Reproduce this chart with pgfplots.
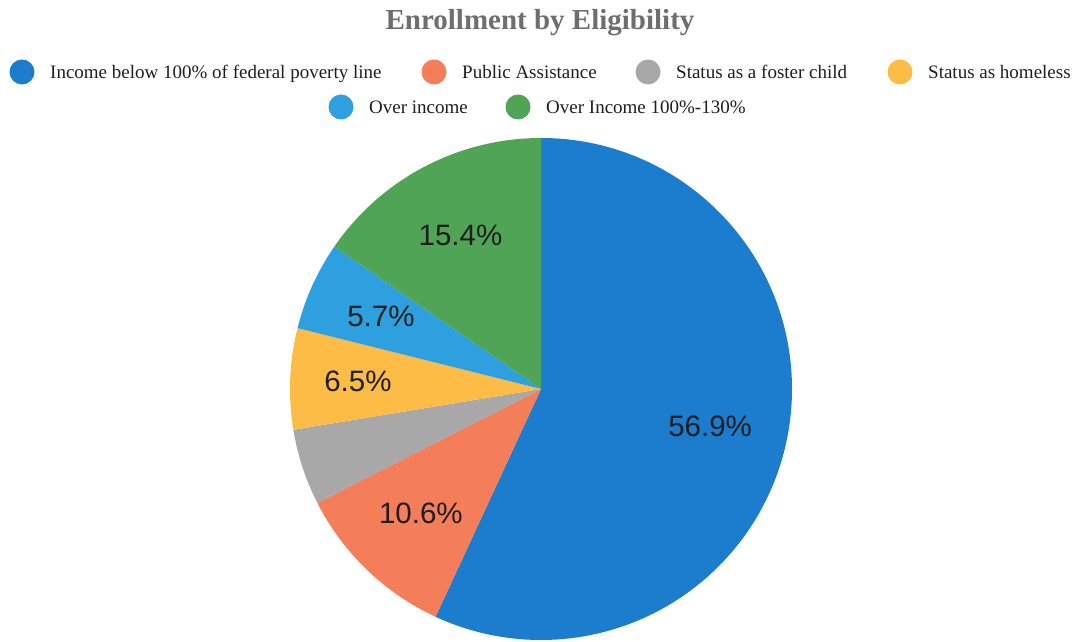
\documentclass[border=0pt]{standalone}
\usepackage{pgfplots}
\pgfplotsset{compat=1.18}
\usepackage{fontspec}
\setmainfont{Liberation Serif}
\newfontfamily\labelfont{Liberation Sans}
\definecolor{cBlue}{RGB}{28,124,206}
\definecolor{cOrange}{RGB}{245,126,90}
\definecolor{cGray}{RGB}{168,168,168}
\definecolor{cYellow}{RGB}{252,188,70}
\definecolor{cLight}{RGB}{46,160,224}
\definecolor{cGreen}{RGB}{80,164,86}
\definecolor{cTitle}{RGB}{110,110,110}
\definecolor{cText}{RGB}{30,30,30}
% slice: from (cumulative %), to (cumulative %), colour, label, label radius (fraction)
\newcommand{\slice}[5]{%
  \fill[#3] (axis cs:0,0) -- ++({90-3.6*#1}:251bp)
     arc[start angle={90-3.6*#1}, end angle={90-3.6*#2}, radius=251bp] -- cycle;
  \node[font=\labelfont\fontsize{29.5bp}{33bp}\selectfont, text=cText]
     at (axis cs:{#5*cos(90-1.8*(#1+#2))},{#5*sin(90-1.8*(#1+#2))}) {#4};
}
\begin{document}
\begin{tikzpicture}
\useasboundingbox (0,0) rectangle (1079bp,642bp);
\begin{axis}[
  at={(290bp,2bp)}, anchor=south west,
  scale only axis, width=502bp, height=502bp,
  xmin=-1, xmax=1, ymin=-1, ymax=1,
  hide axis, clip=false]
% values: 56.9, 10.6, 4.9, 6.5, 5.7, 15.4 (cumulative boundaries below)
\slice{0}{56.9}{cBlue}{56.9\%}{0.69}
\slice{56.9}{67.5}{cOrange}{10.6\%}{0.69}
\slice{67.5}{72.4}{cGray}{}{0.69}
\slice{72.4}{78.9}{cYellow}{6.5\%}{0.73}
\slice{78.9}{84.6}{cLight}{5.7\%}{0.70}
\slice{84.6}{100}{cGreen}{15.4\%}{0.69}
\end{axis}
% title
\node[anchor=base, text=cTitle, font=\bfseries\fontsize{29bp}{34bp}\selectfont] at (540bp,612bp) {Enrollment by Eligibility};
% legend
\def\lg#1#2#3#4{%
  \fill[#3] (#1bp,#2bp) circle (12.5bp);
  \node[anchor=base west, inner sep=0pt, text=cText, font=\fontsize{19bp}{23bp}\selectfont] at (#1bp+28bp,#2bp-6.3bp) {#4};
}
\lg{22}{570}{cBlue}{Income below 100\% of federal poverty line}
\lg{434}{570}{cOrange}{Public Assistance}
\lg{648}{570}{cGray}{Status as a foster child}
\lg{900}{570}{cYellow}{Status as homeless}
\lg{341}{535}{cLight}{Over income}
\lg{518}{535}{cGreen}{Over Income 100\%-130\%}
\end{tikzpicture}
\end{document}
